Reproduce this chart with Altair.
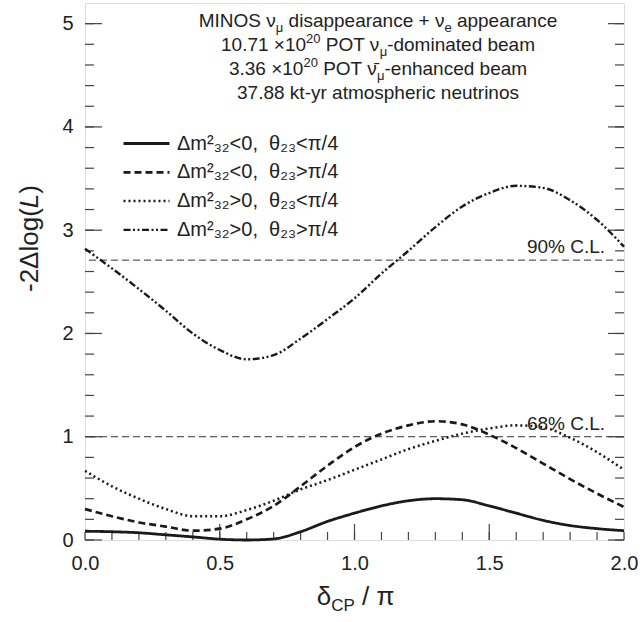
import altair as alt
import pandas as pd

# ---------------- data ----------------
delta = [0.0, 0.1, 0.2, 0.3, 0.4, 0.5, 0.6, 0.7, 0.8, 0.9, 1.0,
         1.1, 1.2, 1.3, 1.4, 1.5, 1.6, 1.7, 1.8, 1.9, 2.0]
nh_lo = [0.085, 0.08, 0.07, 0.05, 0.03, 0.008, 0.0, 0.01, 0.08, 0.18, 0.26,
         0.33, 0.38, 0.40, 0.39, 0.33, 0.26, 0.19, 0.14, 0.11, 0.09]
nh_hi = [0.30, 0.23, 0.17, 0.13, 0.09, 0.11, 0.20, 0.33, 0.52, 0.72, 0.90,
         1.03, 1.11, 1.15, 1.12, 1.02, 0.89, 0.74, 0.59, 0.45, 0.32]
ih_lo = [0.67, 0.52, 0.40, 0.30, 0.23, 0.23, 0.29, 0.38, 0.49, 0.58, 0.68,
         0.78, 0.88, 0.96, 1.03, 1.08, 1.11, 1.09, 0.99, 0.85, 0.68]
ih_hi = [2.82, 2.63, 2.43, 2.22, 2.00, 1.84, 1.75, 1.79, 1.95, 2.14, 2.34,
         2.58, 2.80, 3.03, 3.23, 3.36, 3.43, 3.41, 3.29, 3.10, 2.84]

series_names = [
    "Δm²₃₂<0,\u00a0 θ₂₃<π/4",
    "Δm²₃₂<0,\u00a0 θ₂₃>π/4",
    "Δm²₃₂>0,\u00a0 θ₂₃<π/4",
    "Δm²₃₂>0,\u00a0 θ₂₃>π/4",
]
series_values = [nh_lo, nh_hi, ih_lo, ih_hi]

cl_levels = [2.71, 1.0]
cl_labels = ["90% C.L.", "68% C.L."]

x_major = [0.0, 0.5, 1.0, 1.5, 2.0]
y_major = [0, 1, 2, 3, 4, 5]
x_minor = [i / 10 for i in range(21)]
y_minor = [i / 5 for i in range(26)]

# ---------------- layout ----------------
LEFT, TOP, W, H = 85, 3, 539, 537
FONT = "Liberation Sans"
INK = "#1a1a1a"
TXT = "#222222"
FRAME = "#444444"

xscale = alt.Scale(domain=[0, 2], nice=False, zero=False)
yscale = alt.Scale(domain=[0, 5.2], nice=False, zero=False)
x_axis = alt.Axis(values=x_major, format=".1f", ticks=False, domain=False, grid=False,
                  labelFontSize=20, labelFont=FONT, labelColor=TXT, labelPadding=13,
                  labelFlush=False, title=None)
y_axis = alt.Axis(values=y_major, format="d", ticks=False, domain=False, grid=False,
                  labelFontSize=20, labelFont=FONT, labelColor=TXT, labelPadding=12,
                  labelFlush=False, title=None)

rows = []
for name, vals in zip(series_names, series_values):
    for d, v in zip(delta, vals):
        rows.append({"delta": d, "value": v, "series": name})
df = pd.DataFrame(rows)

dashes = [[1, 0], [7, 4], [2, 3], [7, 2.5, 2, 2.5, 2, 2.5]]

lines = alt.Chart(df).mark_line(interpolate="monotone", color=INK, strokeCap="butt").encode(
    x=alt.X("delta:Q", scale=xscale, axis=x_axis),
    y=alt.Y("value:Q", scale=yscale, axis=y_axis),
    strokeDash=alt.StrokeDash(
        "series:N", scale=alt.Scale(domain=series_names, range=dashes),
        legend=alt.Legend(orient="none", legendX=37, legendY=131, title=None,
                          labelFontSize=20, labelFont=FONT, labelColor=TXT,
                          symbolType="stroke", symbolSize=2116, symbolStrokeWidth=2.6,
                          symbolStrokeColor=INK, clipHeight=19, rowPadding=7.8,
                          labelOffset=6, padding=0, labelLimit=400)),
    strokeWidth=alt.StrokeWidth("series:N", scale=alt.Scale(domain=series_names,
                                range=[2.8, 2.4, 2.4, 2.4]), legend=None),
    detail="series:N",
)

cl_df = pd.DataFrame({"level": cl_levels, "label": cl_labels, "xpos": [1.93, 1.93]})
cl_rules = alt.Chart(cl_df).mark_rule(color="#333333", strokeWidth=1, strokeDash=[7, 4]).encode(
    y=alt.Y("level:Q", scale=yscale, axis=y_axis))
cl_text = alt.Chart(cl_df).mark_text(align="right", baseline="alphabetic", dy=-7, fontSize=19,
                                     font=FONT, color=TXT).encode(
    x=alt.X("xpos:Q", scale=xscale, axis=x_axis),
    y=alt.Y("level:Q", scale=yscale, axis=y_axis),
    text="label:N")


def yticks(vals, length, right=False):
    return alt.Chart(pd.DataFrame({"v": vals})).mark_rule(color=FRAME, strokeWidth=1.2).encode(
        y=alt.Y("v:Q", scale=yscale, axis=y_axis),
        x=alt.value(W if right else 0),
        x2=alt.value(W - length if right else length))


def xticks(vals, length):
    return alt.Chart(pd.DataFrame({"v": vals})).mark_rule(color=FRAME, strokeWidth=1.2).encode(
        x=alt.X("v:Q", scale=xscale, axis=x_axis),
        y=alt.value(H), y2=alt.value(H - length))


tick_layers = [yticks(y_minor, 9), yticks(y_major, 17), yticks(y_minor, 9, True),
               yticks(y_major, 16, True), xticks(x_minor, 8), xticks(x_major[1:-1], 16)]

# ---------------- rich text helper ----------------
NB = "\u00a0"
EM = {" ": .278, NB: .278, ".": .278, ",": .278, "%": .889, "+": .584, "-": .333,
      "<": .584, ">": .584, "/": .278, "(": .333, ")": .333, "×": .584, "\u0304": 0.0,
      "ν": .5, "μ": .576, "Δ": .668, "θ": .556, "π": .6, "δ": .556,
      "A": .667, "B": .667, "C": .722, "D": .722, "E": .667, "F": .611, "G": .778, "H": .722,
      "I": .278, "J": .5, "K": .667, "L": .556, "M": .833, "N": .722, "O": .778, "P": .667,
      "Q": .778, "R": .722, "S": .667, "T": .611, "U": .722, "V": .667, "W": .944, "X": .667,
      "Y": .667, "Z": .611,
      "a": .556, "b": .556, "c": .5, "d": .556, "e": .556, "f": .278, "g": .556, "h": .556,
      "i": .222, "j": .222, "k": .5, "l": .222, "m": .833, "n": .556, "o": .556, "p": .556,
      "q": .556, "r": .333, "s": .5, "t": .278, "u": .556, "v": .5, "w": .722, "x": .5,
      "y": .5, "z": .5}


def tw(s, size):
    return sum(EM.get(ch, .556) for ch in s) * size


def piece(text, x, y, size, angle=0, italic=False, baseline="alphabetic"):
    return alt.Chart(pd.DataFrame({"t": [text]})).mark_text(
        align="left", baseline=baseline, fontSize=size, font=FONT, color=TXT,
        angle=angle, fontStyle="italic" if italic else "normal").encode(
        text="t:N", x=alt.value(x), y=alt.value(y))


def rich_line(parts, cx_abs, base_abs):
    total = sum(tw(t, s) for t, s, _ in parts)
    x = cx_abs - total / 2 - LEFT
    out = []
    for t, s, shift in parts:
        stripped = t.lstrip(" ")
        lead = tw(t[: len(t) - len(stripped)], s)
        out.append(piece(stripped, x + lead, base_abs - TOP + shift, s))
        x += tw(t, s)
    return out


N, S = 19, 13
SUB, SUP = 5, -8
title_lines = [
    [("MINOS ν", N, 0), ("μ", S, SUB), (" disappearance + ν", N, 0), ("e", S, SUB), (" appearance", N, 0)],
    [("10.71 ×10", N, 0), ("20", S, SUP), (" POT ν", N, 0), ("μ", S, SUB), ("-dominated beam", N, 0)],
    [("3.36 ×10", N, 0), ("20", S, SUP), (" POT ν\u0304", N, 0), ("μ", S, SUB), ("-enhanced beam", N, 0)],
    [("37.88 kt-yr atmospheric neutrinos", N, 0)],
]
title_base = [27, 51, 75, 99]
text_layers = []
for parts, b in zip(title_lines, title_base):
    text_layers += rich_line(parts, 378, b)

# x-axis title  δ_CP / π
xt_parts = [("δ", 26, 0), ("CP", 17, 6), (" / π", 26, 0)]
text_layers += rich_line(xt_parts, LEFT + W / 2, 605)

# y-axis title  -2Δlog(L), rotated
yt_parts = [("-2Δlog(", False), ("L", True), (")", False)]
ypos = 292 - TOP
for t, it in yt_parts:
    text_layers.append(piece(t, 30 - LEFT, ypos, 26, angle=270, italic=it, baseline="middle"))
    ypos -= tw(t, 26)

chart = alt.layer(cl_rules, *tick_layers, lines, cl_text, *text_layers).properties(
    width=W, height=H, autosize="none",
    padding={"left": LEFT, "top": TOP, "right": 642 - LEFT - W, "bottom": 622 - TOP - H},
).configure_view(stroke=FRAME, strokeWidth=1.3).configure(font=FONT)

chart.save("out.html", embed_options={"renderer": "svg", "actions": False})
